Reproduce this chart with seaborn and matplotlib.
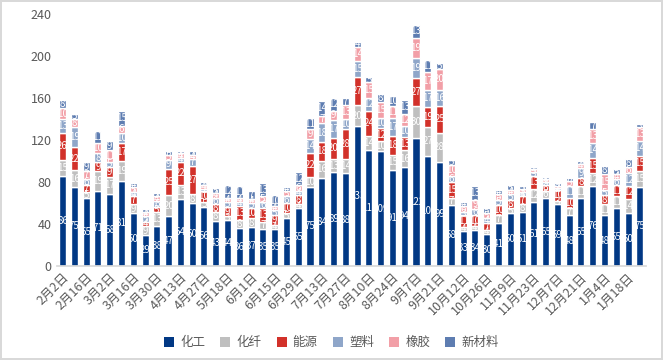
import matplotlib
matplotlib.use('Agg')
import matplotlib.pyplot as plt
from matplotlib.patches import Patch
import numpy as np
import pandas as pd
import seaborn as sns

# weekly dates (category axis, every other one labelled)
dates = ['2月2日', '2月9日', '2月16日', '2月23日', '3月2日', '3月9日', '3月16日', '3月23日',
         '3月30日', '4月6日', '4月13日', '4月20日', '4月27日', '5月11日', '5月18日', '5月25日',
         '6月1日', '6月8日', '6月15日', '6月22日', '6月29日', '7月6日', '7月13日', '7月20日',
         '7月27日', '8月3日', '8月10日', '8月17日', '8月24日', '8月31日', '9月7日', '9月14日',
         '9月21日', '9月28日', '10月12日', '10月19日', '10月26日', '11月2日', '11月9日', '11月16日',
         '11月23日', '11月30日', '12月7日', '12月14日', '12月21日', '12月28日', '1月4日', '1月11日',
         '1月18日', '1月25日']

chem = [86, 75, 65, 71, 68, 81, 50, 29, 38, 47, 64, 60, 56, 43, 44, 36, 37, 35, 35, 45,
        55, 75, 84, 89, 88, 133, 110, 109, 91, 94, 122, 105, 99, 58, 33, 34, 30, 41, 50, 51,
        61, 65, 59, 48, 65, 76, 48, 55, 50, 75]
fiber = [15, 16, 5, 19, 17, 19, 9, 9, 13, 20, 13, 8, 5, 8, 3, 8, 8, 7, 4, 5,
         4, 10, 16, 13, 14, 20, 14, 10, 15, 16, 30, 27, 28, 7, 4, 4, 4, 7, 5, 8,
         12, 6, 3, 7, 11, 12, 11, 11, 14, 15]
energy = [26, 22, 7, 9, 9, 17, 7, 4, 5, 25, 22, 27, 10, 8, 9, 13, 10, 13, 9, 10,
          8, 22, 18, 20, 28, 27, 24, 12, 18, 13, 27, 19, 25, 15, 11, 10, 7, 10, 8, 7,
          13, 6, 10, 10, 8, 15, 8, 11, 12, 15]
plastic = [13, 19, 6, 8, 5, 10, 4, 5, 6, 9, 4, 7, 2, 6, 5, 4, 5, 6, 5, 6,
           4, 14, 18, 17, 10, 15, 12, 10, 17, 10, 19, 17, 16, 6, 3, 6, 4, 5, 5, 4,
           3, 3, 2, 11, 9, 14, 5, 6, 12, 14]
rubber = [10, 8, 7, 10, 11, 6, 5, 4, 4, 5, 4, 4, 4, 4, 4, 4, 4, 5, 4, 5,
          6, 9, 7, 9, 13, 14, 15, 15, 11, 12, 19, 17, 20, 10, 6, 9, 5, 5, 4, 3,
          3, 3, 2, 5, 4, 13, 15, 4, 6, 13]
newmat = [8, 5, 9, 11, 9, 15, 4, 3, 3, 3, 2, 3, 3, 5, 12, 11, 7, 13, 10, 4,
          12, 11, 14, 12, 7, 4, 5, 8, 10, 13, 13, 11, 5, 5, 4, 13, 5, 4, 5, 3,
          2, 2, 3, 3, 3, 7, 8, 5, 8, 3]

series = ['化工', '化纤', '能源', '塑料', '橡胶', '新材料']
values = [chem, fiber, energy, plastic, rubber, newmat]
colors = ['#013884', '#bfbfbf', '#d2312a', '#8fa6c9', '#f29fa7', '#5e7db1']

sns.set_theme(style='white')
plt.rcParams['font.family'] = ['Noto Sans CJK SC', 'DejaVu Sans']

fig = plt.figure(figsize=(6.63, 3.6), dpi=100, edgecolor='#d9d9d9', linewidth=1.5)
ax = fig.add_axes([0.0855, 0.262, 0.8885, 0.699])

bottom = np.zeros(len(dates))
for name, vals, col in zip(series, values, colors):
    df = pd.DataFrame({'date': dates, 'value': vals})
    sns.barplot(data=df, x='date', y='value', order=dates, color=col, width=0.6,
                bottom=bottom, errorbar=None, saturation=1, ax=ax)
    bottom = bottom + np.array(vals)

# white value labels inside each segment
for cont in ax.containers:
    ax.bar_label(cont, label_type='center', color='white', fontsize=7)

ax.set_ylim(0, 240)
ax.set_xlim(-0.5, len(dates) - 0.5)
ax.set_yticks(range(0, 241, 40))
ax.set_xticks(range(0, len(dates), 2))
ax.set_xticklabels(dates[::2], rotation=45, ha='right', rotation_mode='anchor')
ax.tick_params(axis='both', labelsize=9, labelcolor='#595959', length=0)
ax.set_xlabel('')
ax.set_ylabel('')
for s in ['top', 'right', 'left']:
    ax.spines[s].set_visible(False)
ax.spines['bottom'].set_color('#d9d9d9')

handles = [Patch(facecolor=c, edgecolor='none') for c in colors]
fig.legend(handles, series, loc='center', bbox_to_anchor=(0.5, 0.048), ncol=6,
           frameon=False, fontsize=9, handlelength=0.8, handleheight=0.8,
           columnspacing=1.2, handletextpad=0.5, labelcolor='#595959')

fig.savefig('out.png', dpi=100)
